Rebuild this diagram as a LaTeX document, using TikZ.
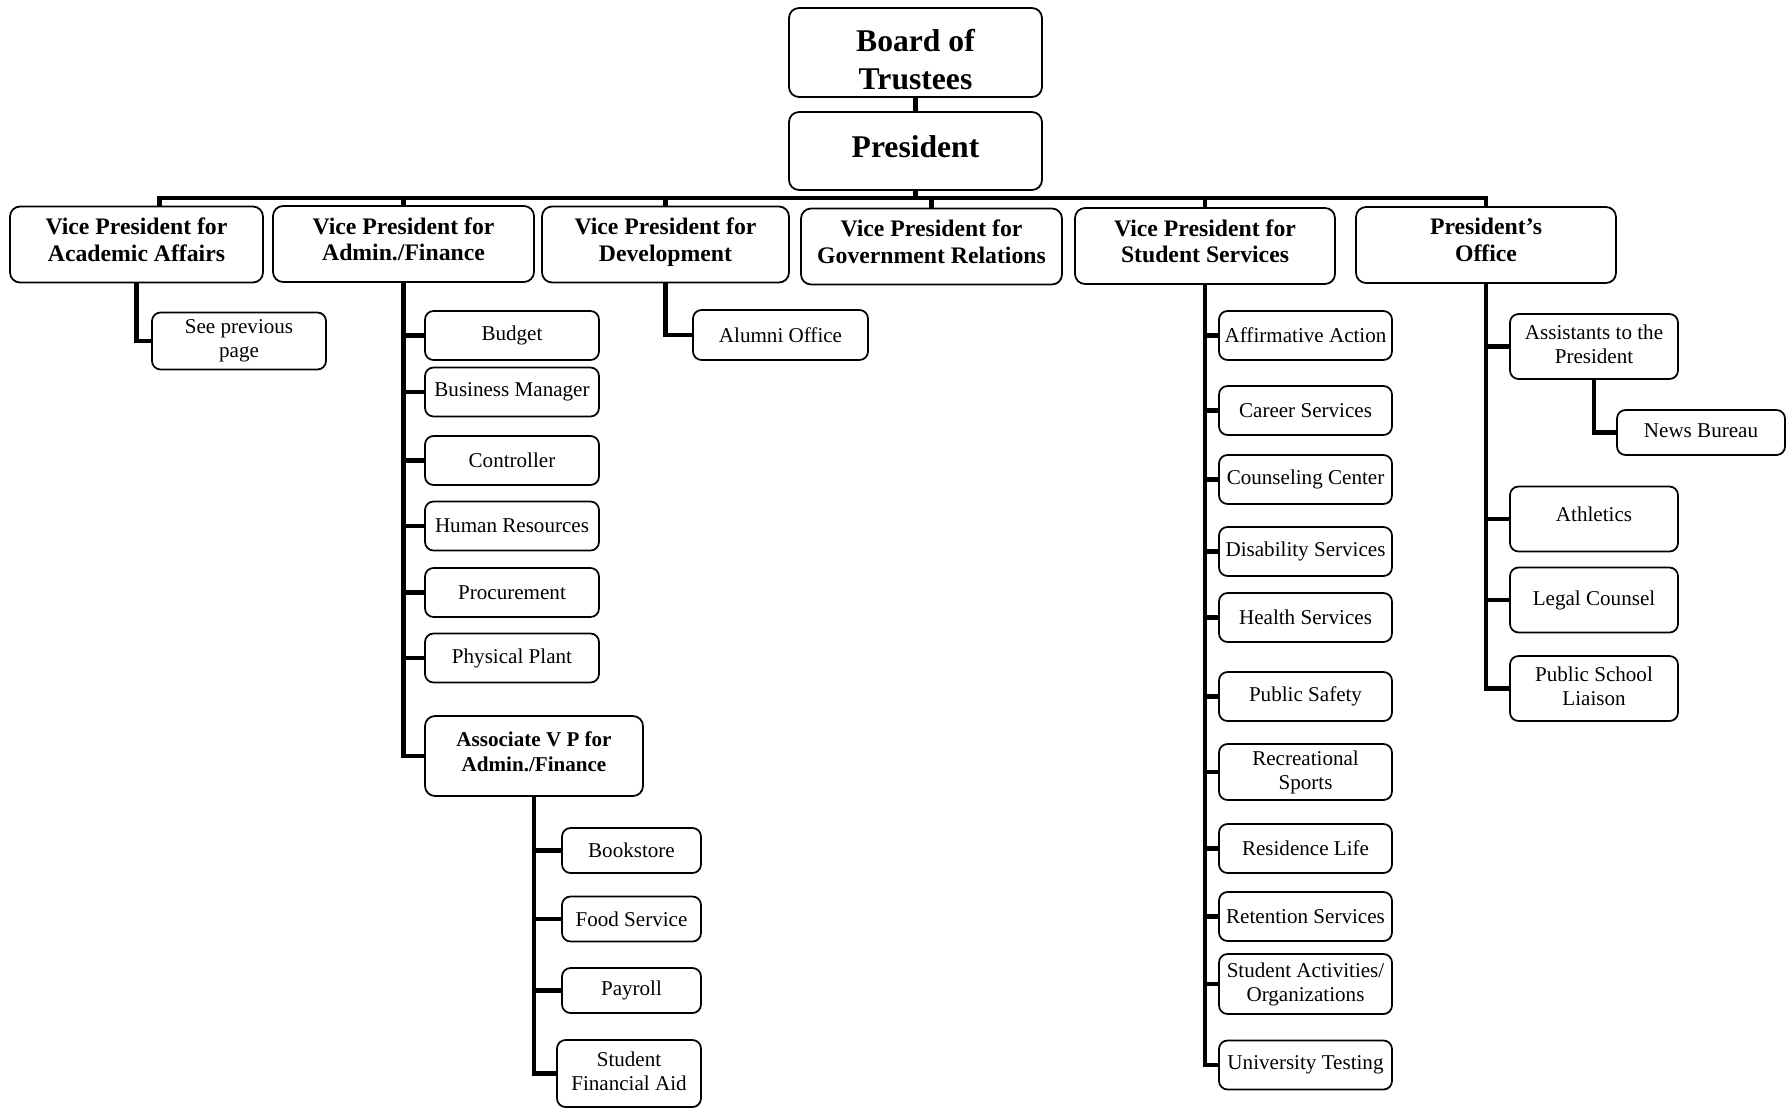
\documentclass[tikz,border=0pt]{standalone}
\usepackage{fontspec}
\setmainfont{Liberation Serif}
\tikzset{
  unit/.style={draw=black, line width=1pt, rounded corners=0.2cm, align=center, inner sep=0pt},
  lift/.style={execute at end node={\rule[-#1]{0pt}{#1}}},
  topbox/.style={unit, minimum width=5.06cm, font=\fontsize{18}{21.5}\selectfont\bfseries},
  vpbox/.style={unit, minimum height=1.52cm, lift=5.5pt, font=\fontsize{13.5}{15.3}\selectfont\bfseries},
  subbox/.style={unit, rounded corners=0.17cm, font=\fontsize{12}{13.6}\selectfont},
  fincol/.style={subbox, minimum width=3.48cm, minimum height=0.98cm},
  auxcol/.style={subbox, minimum width=2.78cm, minimum height=0.9cm},
  stucol/.style={subbox, minimum width=3.46cm, minimum height=0.98cm},
  offcol/.style={subbox, minimum width=3.36cm, minimum height=1.3cm, lift=2.6pt},
  link/.style={line width=2.8pt}
}

\begin{document}
\begin{tikzpicture}[x=0.02cm, y=-0.02cm]
\useasboundingbox (0,0) rectangle (1791,1109);

%top
\node[topbox, minimum height=1.78cm] (B) at (915.5,52.5) {\rule{0pt}{21pt}Board of\\Trustees};
\node[topbox, minimum height=1.56cm, lift=5.2pt] (P) at (915.5,151) {President};
\coordinate (bus) at (915.5,198);

%vice presidents
\node[vpbox, minimum width=5.06cm] (VA) at (136.5,244.5) {Vice President for\\Academic Affairs};
\node[vpbox, minimum width=5.22cm] (VF) at (403.5,244)   {Vice President for\\Admin./Finance};
\node[vpbox, minimum width=4.94cm] (VD) at (665.5,244.5) {Vice President for\\Development};
\node[vpbox, minimum width=5.22cm] (VG) at (931.5,246.5) {Vice President for\\Government Relations};
\node[vpbox, minimum width=5.2cm]  (VS) at (1205,246)    {Vice President for\\Student Services};
\node[vpbox, minimum width=5.2cm]  (PO) at (1486,245)    {President’s\\Office};

%academic, development
\node[subbox, minimum width=3.48cm, minimum height=1.14cm] (sp) at (239,341) {See previous\\page};
\node[subbox, minimum width=3.5cm, minimum height=1cm]     (al) at (780.5,335) {Alumni Office};

%admin./finance
\node[fincol] (bu) at (512,335.5) {Budget};
\node[fincol] (bm) at (512,392)   {Business Manager};
\node[fincol] (co) at (512,460.5) {Controller};
\node[fincol] (hr) at (512,526)   {Human Resources};
\node[fincol] (pr) at (512,592.5) {Procurement};
\node[fincol] (pp) at (512,658)   {Physical Plant};
\node[unit, minimum width=4.36cm, minimum height=1.6cm, lift=5.2pt, font=\fontsize{12}{14.2}\selectfont\bfseries] (av) at (534,756) {Associate V P for\\Admin./Finance};
%
\node[auxcol] (bk) at (631.5,850.5) {Bookstore};
\node[auxcol] (fs) at (631.5,919)   {Food Service};
\node[auxcol] (py) at (631.5,990.5) {Payroll};
\node[auxcol, minimum width=2.88cm, minimum height=1.34cm, lift=2.6pt] (fa) at (629,1073.5) {Student\\Financial Aid};

%student services
\node[stucol] (aa) at (1305.5,335.5) {Affirmative Action};
\node[stucol] (cs) at (1305.5,410.5) {Career Services};
\node[stucol] (cc) at (1305.5,479.5) {Counseling Center};
\node[stucol] (ds) at (1305.5,551.5) {Disability Services};
\node[stucol] (hs) at (1305.5,617.5) {Health Services};
\node[stucol] (sf) at (1305.5,696.5) {Public Safety};
\node[stucol, minimum height=1.12cm] (rs) at (1305.5,772) {Recreational\\Sports};
\node[stucol] (rl) at (1305.5,848.5) {Residence Life};
\node[stucol] (rt) at (1305.5,916.5) {Retention Services};
\node[stucol, minimum height=1.2cm] (sa) at (1305.5,984) {Student Activities/\\Organizations};
\node[stucol] (ut) at (1305.5,1065) {University Testing};

%president's office
\node[offcol] (as) at (1594,346.5) {Assistants to the\\President};
\node[offcol, minimum height=0.9cm] (nb) at (1701,432.5) {News Bureau};
\node[offcol, lift=5.2pt] (at) at (1594,519) {Athletics};
\node[offcol] (lc) at (1594,600)   {Legal Counsel};
\node[offcol] (ps) at (1594,688.5) {Public School\\Liaison};

%lines
\draw[link] (B) -- (P);
\draw[link] (P) -- (bus);
\draw[link] ([xshift=0.46cm]VA.north) |- (bus) -| (PO.north);
\foreach \v in {VF,VD,VG,VS} \draw[link] (\v.north) -- (\v.north |- bus);
%
\draw[link] (VA.south) |- (sp.west);
\draw[link] (VD.south) |- (al.west);
\foreach \c in {bu,bm,co,hr,pr,pp,av} \draw[link] (VF.south) |- (\c.west);
\foreach \c in {bk,fs,py,fa} \draw[link] (av.south) |- (\c.west);
\foreach \c in {aa,cs,cc,ds,hs,sf,rs,rl,rt,sa,ut} \draw[link] (VS.south) |- (\c.west);
\foreach \c in {as,at,lc,ps} \draw[link] (PO.south) |- (\c.west);
\draw[link] (as.south) |- (nb.west);
\end{tikzpicture}
\end{document}
